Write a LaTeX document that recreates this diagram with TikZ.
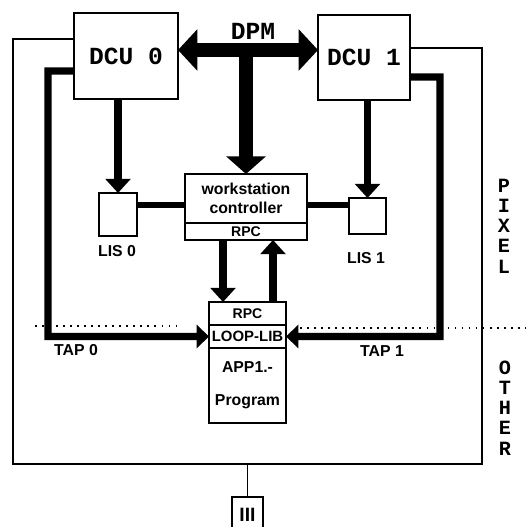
\documentclass[tikz,border=0pt]{standalone}
\usepackage{fontspec}
\usetikzlibrary{arrows.meta, positioning}
\newfontfamily\unitfont{Liberation Mono}[BoldFont={Liberation Mono Bold}]
\newfontfamily\labelfont{Liberation Sans}[BoldFont={Liberation Sans Bold}]

\begin{document}
\begin{tikzpicture}[x=0.02cm, y=-0.02cm,
  box/.style={draw, line width=1.2pt, inner sep=0pt, outer sep=0pt},
  unit/.style={box, font=\unitfont\bfseries\fontsize{14}{16}\selectfont},
  small/.style={font=\labelfont\bfseries\fontsize{9}{11}\selectfont},
  side/.style={align=center, inner sep=0pt, font=\unitfont\bfseries\fontsize{11.5}{11.5}\selectfont},
  frame/.style={line width=1.1pt},
  bus/.style={line width=8pt},
  feed/.style={line width=4.5pt, -{Triangle[length=8pt, width=14pt]}},
  link/.style={line width=3.4pt},
  tapline/.style={line width=4pt, -{Triangle[length=7pt, width=13pt]}},
  sep/.style={line width=1pt, dash pattern=on 1pt off 3pt}]
  % clip the page to the scanned sheet
  \useasboundingbox (0,0) rectangle (526,527);

  % units and boxes (pixel coordinates, y downwards)
  \node[unit, minimum width=2.08cm, minimum height=1.72cm] (dcu0) at (126,56) {DCU 0};
  \node[unit, minimum width=1.84cm, minimum height=1.70cm] (dcu1) at (364,57.5) {DCU 1};
  \node[box, minimum width=0.76cm, minimum height=0.86cm] (lis0) at (118,214.5) {};
  \node[box, minimum width=0.74cm, minimum height=0.72cm] (lis1) at (367.5,216) {};

  \node[box, small, align=center, minimum width=2.44cm, minimum height=0.98cm] (wsc) at (246,198.5) {workstation\\controller};
  \node[box, small, font=\labelfont\bfseries\fontsize{8}{9}\selectfont, minimum width=2.44cm, minimum height=0.34cm, below=0pt of wsc] (wsrpc) {RPC};

  \node[box, small, font=\labelfont\bfseries\fontsize{8}{9}\selectfont, minimum width=1.54cm, minimum height=0.46cm] (apprpc) at (247.5,313.5) {RPC};
  \node[box, small, font=\labelfont\bfseries\fontsize{8.5}{9}\selectfont, minimum width=1.54cm, minimum height=0.46cm, below=0pt of apprpc] (loop) {LOOP-LIB};
  \node[box, small, align=center, minimum width=1.54cm, minimum height=1.5cm, below=0pt of loop] (appl) {APP1.-\\[8pt]Program};

  \node[box, small, font=\labelfont\bfseries\fontsize{11}{12}\selectfont, minimum width=0.62cm, minimum height=0.72cm] (term) at (247.5,515) {III};

  % DPM bus
  \node[unit, draw=none] (dpm) at (253,31) {DPM};
  \draw[bus, {Triangle[length=11pt, width=23pt]}-{Triangle[length=11pt, width=23pt]}] (dcu0.east |- 0,50) -- (dcu1.west |- 0,50);
  \draw[bus, -{Triangle[length=10pt, width=22pt]}] (wsc.north |- 0,50) -- (wsc.north);

  \draw[feed] (dcu0.south -| lis0.north) -- (lis0.north);
  \draw[feed] (dcu1.south -| lis1.north) -- (lis1.north);
  \draw[link] (lis0.east |- 0,205) -- (wsc.west |- 0,205);
  \draw[link] (wsc.east |- 0,205) -- (lis1.west |- 0,205);

  \draw[feed] (wsrpc.south -| 223,0) -- (apprpc.north -| 223,0);
  \draw[feed] (apprpc.north -| 273,0) -- (wsrpc.south -| 273,0);

  % TAP lines into the loop library
  \draw[tapline] (dcu0.west |- 0,71) -| (48,336.5) -- (loop.west);
  \draw[tapline] (dcu1.east |- 0,77) -| (440,336.5) -- (loop.east);

  % outer frame and terminal
  \draw[frame] (dcu0.west |- 0,39) -| (13,464) -| (482,48) -- (dcu1.east |- 0,48);
  \draw[frame] (term.north) -- (term.north |- 0,464);

  \draw[sep] (35,326) -- (180,326);
  \draw[sep] (300,328) -- (526,328);

  \node[small] (lis0lab) at (117,251) {LIS 0};
  \node[small] (lis1lab) at (366,258) {LIS 1};
  \node[small] (tap0lab) at (76,350) {TAP 0};
  \node[small] (tap1lab) at (382,351) {TAP 1};
  \node[side] (pixel) at (504,226) {P\\I\\X\\E\\L};
  \node[side] (other) at (505,408) {O\\T\\H\\E\\R};
\end{tikzpicture}
\end{document}
